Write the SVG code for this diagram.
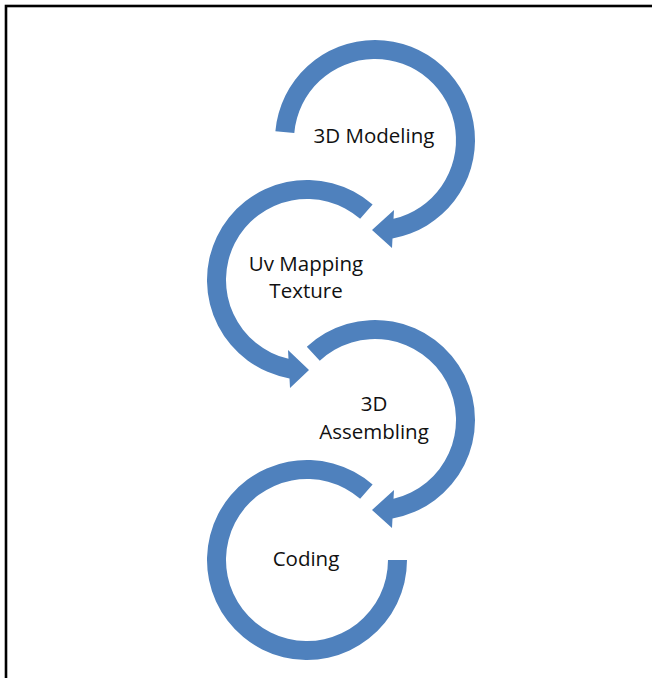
<svg xmlns="http://www.w3.org/2000/svg" width="652" height="678" viewBox="0 0 652 678">
  <style>
    .ring { fill: #4F81BD; stroke: none; }
    .lbl { font-family: "Open Sans", "Liberation Sans", sans-serif; font-size: 20.5px; fill: #111111; text-anchor: middle; }
  </style>
  <rect x="0" y="0" width="652" height="678" fill="#ffffff"/>
  <rect id="frame" x="6" y="6" width="700" height="720" fill="none" stroke="#000000" stroke-width="2.6"/>

  <g id="node-3d-modeling">
    <path class="ring" d="M 275.38 131.28 A 100 100 0 1 1 392.5 238.45 L 392 248 L 372 230 L 394 210 L 393.53 218.85 A 81 81 0 1 0 294.31 132.94 Z"/>
    <text class="lbl" x="374" y="143">3D Modeling</text>
  </g>

  <g id="node-uv-mapping">
    <path class="ring" d="M 372.61 204.53 A 100 100 0 1 0 289.5 378.45 L 290 388 L 309 370 L 288 350 L 288.47 358.85 A 81 81 0 1 1 360.14 218.87 Z"/>
    <text class="lbl" x="306" y="271">Uv Mapping</text>
    <text class="lbl" x="306" y="298">Texture</text>
  </g>

  <g id="node-3d-assembling">
    <path class="ring" d="M 306.80 346.86 A 100 100 0 1 1 392.5 518.45 L 392 528 L 372 510 L 394 490 L 393.53 498.85 A 81 81 0 1 0 319.76 360.76 Z"/>
    <text class="lbl" x="374" y="411">3D</text>
    <text class="lbl" x="374" y="439">Assembling</text>
  </g>

  <g id="node-coding">
    <path class="ring" d="M 372.61 484.53 A 100 100 0 1 0 407 560 L 388 560 A 81 81 0 1 1 360.14 498.87 Z"/>
    <text class="lbl" x="306" y="566">Coding</text>
  </g>
</svg>
